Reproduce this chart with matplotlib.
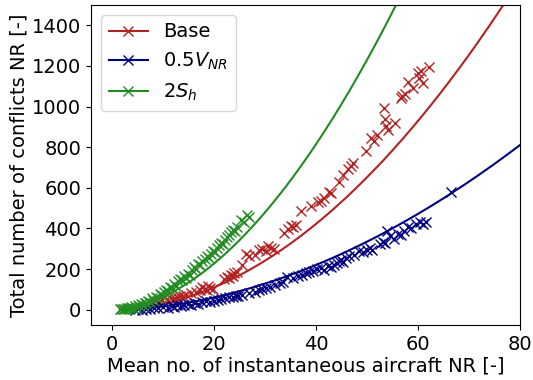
import numpy as np
import matplotlib
matplotlib.use('Agg')
import matplotlib.pyplot as plt
from matplotlib.lines import Line2D

# measured points (mean no. of aircraft, total conflicts)
base_x = [8.2, 9.0, 9.9, 10.8, 11.6, 12.2, 12.8, 13.4, 13.9, 14.5, 15.5, 16.5, 17.4, 17.8, 18.2, 18.6,
          18.9, 19.3, 19.8, 22.0, 22.6, 22.9, 23.3, 23.7, 24.0, 24.5, 25.6, 26.3, 26.9, 28.0, 28.8, 29.5,
          30.2, 30.6, 31.2, 31.8, 33.7, 34.5, 35.1, 35.6, 36.2, 37.1, 39.0, 40.5, 41.0, 41.6, 42.5, 43.0,
          44.5, 45.3, 46.3, 46.9, 47.3, 49.8, 50.8, 51.3, 52.0, 53.4, 53.5, 53.8, 54.2, 55.4, 56.7, 56.9,
          57.5, 58.0, 59.0, 59.9, 60.2, 60.6, 60.9, 62.1]
base_y = [34, 40, 49, 52, 58, 59, 62, 66, 69, 72, 80, 88, 98, 110, 103, 95,
          115, 108, 100, 150, 162, 157, 172, 165, 180, 185, 221, 275, 265, 270, 292, 300,
          290, 314, 305, 300, 378, 395, 413, 405, 418, 488, 508, 530, 535, 550, 580, 572,
          630, 663, 690, 708, 720, 781, 845, 830, 860, 991, 938, 905, 884, 917, 1040, 1051,
          1060, 1122, 1089, 1163, 1140, 1175, 1114, 1193]

slow_x = [4.6, 5.2, 6.0, 6.8, 7.5, 8.3, 9.0, 10.0, 11.0, 11.8, 12.3, 12.8, 13.5, 14.2, 14.9, 15.5,
          16.3, 17.0, 17.8, 18.4, 19.2, 20.0, 20.8, 21.5, 22.3, 23.0, 23.7, 24.3, 24.8, 25.5, 27.0, 28.0,
          28.8, 29.5, 30.2, 31.0, 32.0, 32.9, 33.5, 34.4, 35.5, 36.5, 37.2, 38.0, 38.6, 39.5, 40.3, 41.0,
          41.5, 42.3, 43.0, 43.6, 44.2, 44.6, 45.0, 45.3, 45.8, 46.5, 47.5, 48.4, 49.2, 50.0, 50.6, 51.0,
          52.5, 53.2, 53.5, 53.9, 54.5, 55.2, 56.0, 56.7, 57.3, 58.0, 58.6, 59.6, 60.3, 61.0, 61.6, 66.5]
slow_y = [-3, 2, 0, 5, 3, 8, 6, 12, 10, 18, 14, 22, 20, 25, 29, 24,
          33, 30, 39, 42, 38, 44, 47, 52, 55, 60, 64, 69, 66, 72, 80, 88,
          95, 100, 105, 110, 120, 130, 138, 160, 155, 165, 172, 182, 187, 192, 200, 206,
          197, 215, 210, 222, 230, 240, 246, 236, 252, 262, 270, 290, 285, 292, 305, 295,
          322, 335, 329, 388, 364, 350, 372, 369, 385, 408, 402, 423, 430, 420, 432, 578]

sep_x = [1.6, 1.9, 2.2, 2.5, 2.8, 3.0, 3.3, 3.6, 3.9, 4.2, 4.5, 4.8, 5.1, 5.4, 5.8, 6.1,
         6.5, 6.8, 7.2, 7.5, 7.9, 8.2, 8.6, 9.0, 9.4, 9.8, 10.2, 10.6, 11.0, 11.4, 11.8, 12.2,
         12.6, 13.0, 13.4, 13.8, 14.2, 14.6, 15.0, 15.4, 15.8, 16.2, 16.6, 17.0, 17.4, 17.8, 18.2, 18.6,
         19.0, 19.4, 19.8, 20.2, 20.6, 21.0, 21.4, 21.8, 22.2, 22.6, 23.0, 23.4, 23.8, 24.2, 24.6, 25.3,
         26.0, 26.6, 27.0]
sep_y = [2, 4, 1, 5, 3, 8, 6, 10, 12, 9, 18, 15, 22, 19, 28, 25,
         35, 31, 45, 40, 55, 50, 62, 58, 75, 70, 88, 98, 92, 110, 105, 125,
         118, 140, 152, 145, 165, 158, 178, 172, 195, 210, 202, 225, 218, 240, 248, 262,
         255, 275, 290, 282, 305, 318, 330, 325, 345, 356, 368, 380, 392, 385, 405, 442,
         430, 467, 455]

# power-law fits y = a * x**b
labels = ['Base', r'$0.5V_{NR}$', r'$2S_h$']
fit_a = [0.3168, 0.2107, 0.884]
fit_b = [1.95, 1.884, 1.85]
colors = ['firebrick', 'navy', 'forestgreen']

fig = plt.figure(figsize=(5.33, 3.8), dpi=100)
ax = fig.add_axes([0.171, 0.145, 0.805, 0.842])

series = [(base_x, base_y), (slow_x, slow_y), (sep_x, sep_y)]
handles = []
for (xs, ys), a, b, c, lab in zip(series, fit_a, fit_b, colors, labels):
    ax.plot(xs, ys, 'x', color=c, markersize=7, markeredgewidth=1)
    xf = np.linspace(min(xs), 80, 200)
    ax.plot(xf, a * xf ** b, '-', color=c, linewidth=1.5)
    handles.append(Line2D([], [], color=c, marker='x', linewidth=1.5, markersize=7, label=lab))

ax.set_xlim(-4, 80)
ax.set_ylim(-75, 1500)
ax.set_xticks([0, 20, 40, 60, 80])
ax.set_yticks([0, 200, 400, 600, 800, 1000, 1200, 1400])
ax.tick_params(labelsize=14)
ax.set_xlabel('Mean no. of instantaneous aircraft NR [-]', fontsize=14, labelpad=2)
ax.set_ylabel('Total number of conflicts NR [-]', fontsize=14, labelpad=3)
ax.legend(handles=handles, loc='upper left', fontsize=14)

fig.savefig('out.png', dpi=100)
